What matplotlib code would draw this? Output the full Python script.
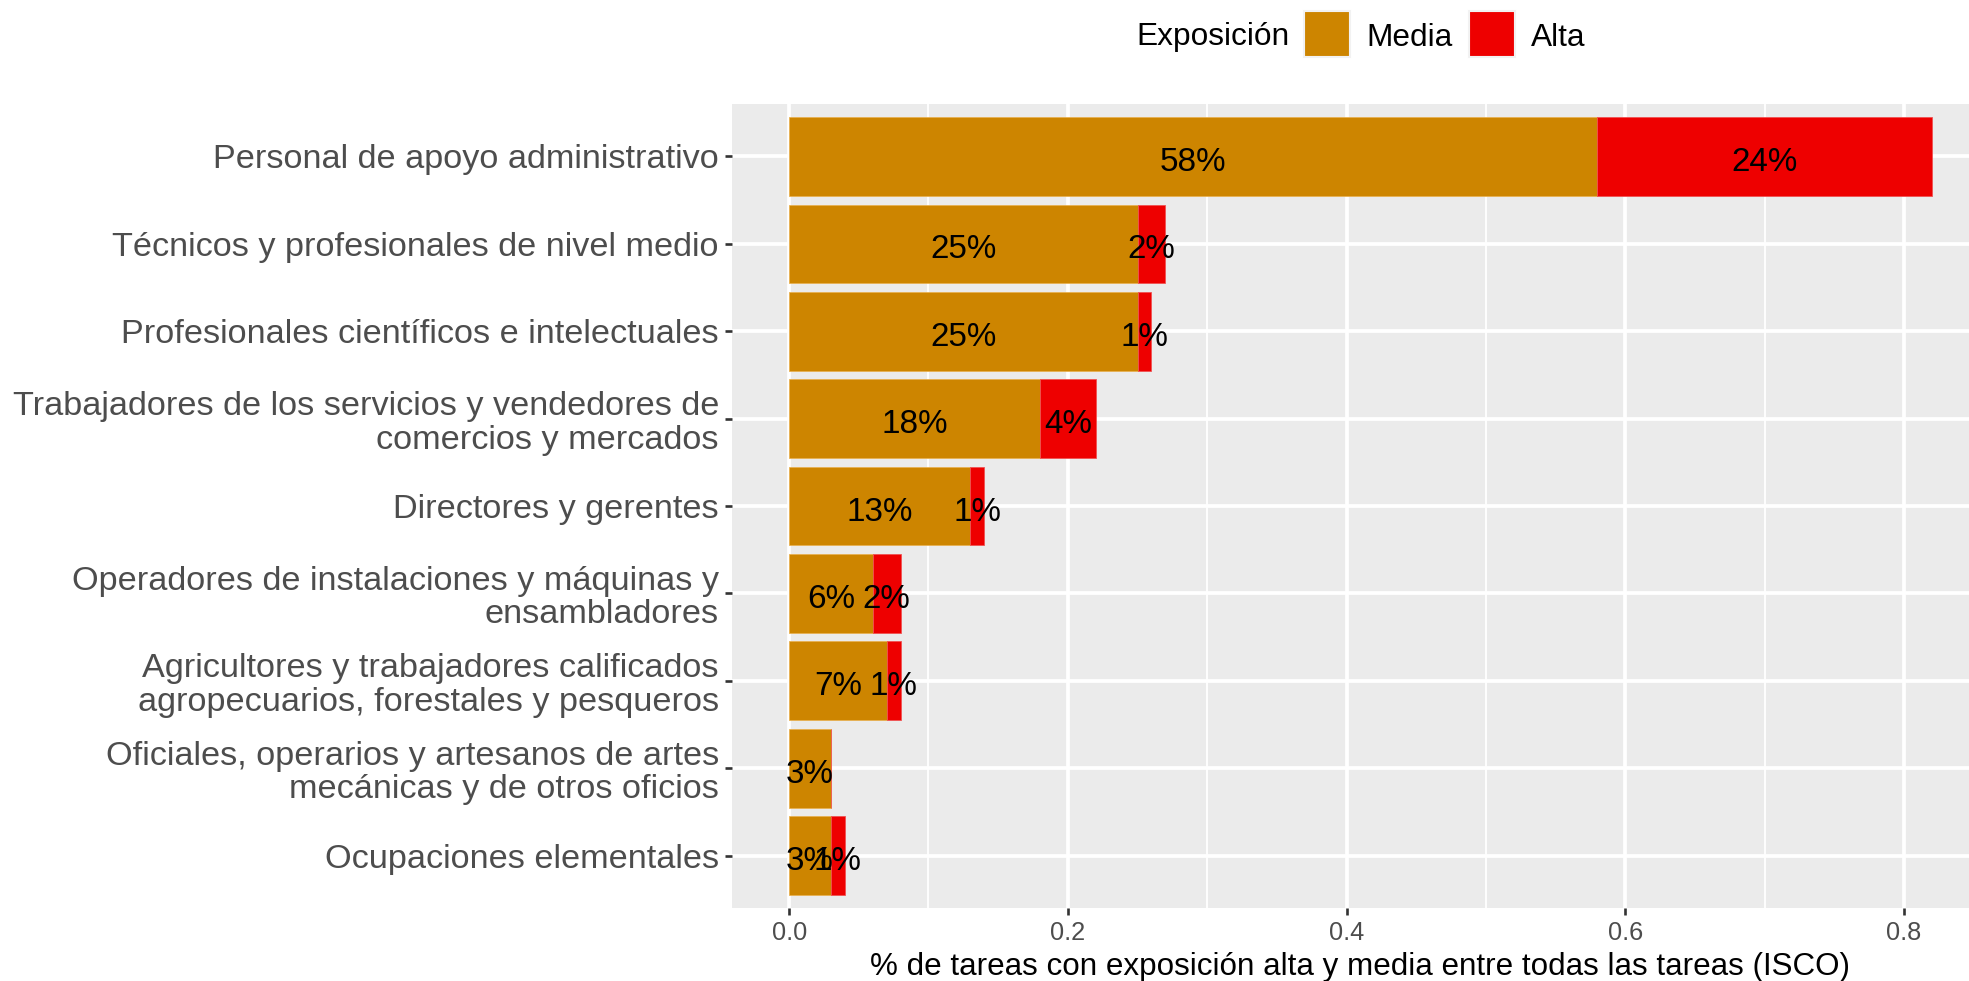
import matplotlib
matplotlib.use("Agg")
import matplotlib.pyplot as plt
from matplotlib.patches import Rectangle
from matplotlib.ticker import MultipleLocator

plt.rcParams['font.family'] = ['Liberation Sans', 'DejaVu Sans']

# ocupaciones (de arriba hacia abajo)
ocupaciones = [
    "Personal de apoyo administrativo",
    "Técnicos y profesionales de nivel medio",
    "Profesionales científicos e intelectuales",
    "Trabajadores de los servicios y vendedores de\ncomercios y mercados",
    "Directores y gerentes",
    "Operadores de instalaciones y máquinas y\nensambladores",
    "Agricultores y trabajadores calificados\nagropecuarios, forestales y pesqueros",
    "Oficiales, operarios y artesanos de artes\nmecánicas y de otros oficios",
    "Ocupaciones elementales",
]
media = [0.58, 0.25, 0.25, 0.18, 0.13, 0.06, 0.07, 0.03, 0.03]
alta = [0.24, 0.02, 0.01, 0.04, 0.01, 0.02, 0.01, 0.00, 0.01]

col_media = "#CD8500"
col_alta = "#EE0000"
grey30 = "#4D4D4D"

W, H, DPI = 1969, 981, 190
fig = plt.figure(figsize=(W / DPI, H / DPI), dpi=DPI)

# panel (extends past right edge like the reference)
left, right, top, bottom = 732, 1989, 104, 908
ax = fig.add_axes([left / W, (H - bottom) / H, (right - left) / W, (bottom - top) / H])
ax.set_facecolor("#EBEBEB")
for s in ax.spines.values():
    s.set_visible(False)

n = len(ocupaciones)
ypos = list(range(n, 0, -1))

ax.barh(ypos, media, height=0.9, color=col_media, edgecolor="#E8B050", linewidth=0.3, zorder=3)
ax.barh(ypos, alta, left=media, height=0.9, color=col_alta, edgecolor="#F05050", linewidth=0.3, zorder=3)

for y, m, a in zip(ypos, media, alta):
    if m > 0:
        ax.text(m / 2, y - 0.03, f"{round(m * 100)}%", ha="center", va="center_baseline",
                fontsize=12.6, color="black", zorder=5)
    if a > 0:
        ax.text(m + a / 2, y - 0.03, f"{round(a * 100)}%", ha="center", va="center_baseline",
                fontsize=12.6, color="black", zorder=5)

xmax = max(m + a for m, a in zip(media, alta))
ax.set_xlim(-0.05 * xmax, 1.05 * xmax)
ax.set_ylim(0.4, n + 0.6)

ax.xaxis.set_major_locator(MultipleLocator(0.2))
ax.xaxis.set_minor_locator(MultipleLocator(0.1))
ax.grid(which="major", color="white", linewidth=1.42, zorder=1)
ax.grid(which="minor", axis="x", color="white", linewidth=0.71, zorder=1)
ax.set_axisbelow(True)

ax.set_yticks(ypos)
ax.set_yticklabels(ocupaciones, fontsize=13, color=grey30, linespacing=1.1)
ax.set_xticks([0, 0.2, 0.4, 0.6, 0.8])
ax.set_xticklabels(["0.0", "0.2", "0.4", "0.6", "0.8"], fontsize=9.6, color=grey30)
ax.tick_params(axis="both", which="major", length=2.75, width=1.0, color="#333333", pad=2.2)
ax.tick_params(axis="x", which="minor", length=0)
ax.set_xlabel("% de tareas con exposición alta y media entre todas las tareas (ISCO)",
              fontsize=11.9, labelpad=2.75, color="black")

# legend, drawn at the top
def px(x, y):
    return x / W, 1 - y / H

fig.text(*px(1136, 34), "Exposición", fontsize=12, ha="left", va="center_baseline")
kw, kh = 46, 46
for x0, lab, c in [(1304, "Media", col_media), (1469, "Alta", col_alta)]:
    fig.patches.append(Rectangle(px(x0, 34 + kh / 2), kw / W, kh / H, transform=fig.transFigure,
                                 facecolor=c, edgecolor="#F2F2F2", linewidth=0.8))
    fig.text(*px(x0 + kw + 16, 34), lab, fontsize=12, ha="left", va="center_baseline")

fig.savefig("out.png", dpi=DPI, facecolor="white")
